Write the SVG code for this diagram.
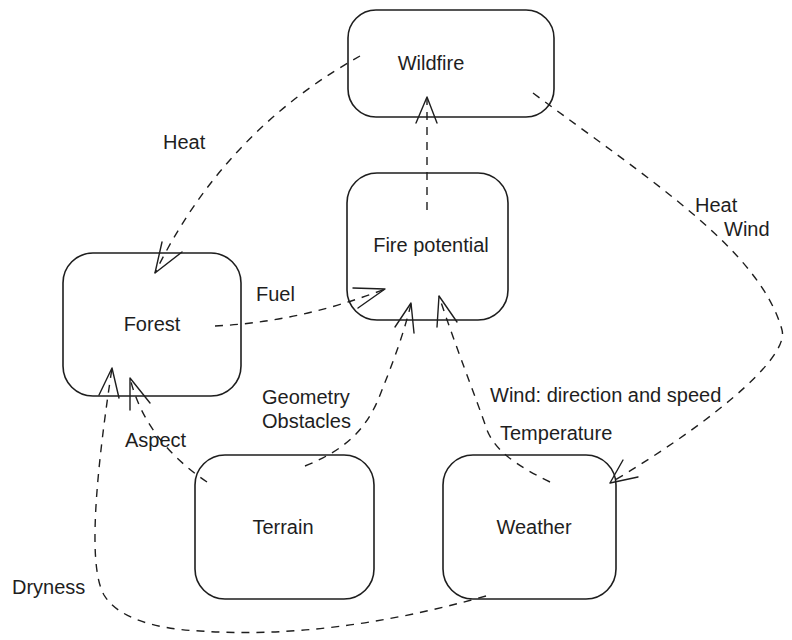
<svg xmlns="http://www.w3.org/2000/svg" width="792" height="640" viewBox="0 0 792 640">
<style>
.box{fill:#ffffff;stroke:#1e1e1e;stroke-width:1.6}
.lbl{font-family:"Liberation Sans","Noto Sans",Arial,sans-serif;font-size:20px;fill:#1e1e1e}
.mid{text-anchor:middle}
.edge{fill:none;stroke:#1e1e1e;stroke-width:1.4;stroke-dasharray:8 7}
.head{fill:none;stroke:#1e1e1e;stroke-width:1.4;stroke-linecap:round;stroke-linejoin:round}
</style>
<rect width="792" height="640" fill="#ffffff"/>
<g id="node-wildfire">
<rect class="box" x="348" y="10" width="206" height="107" rx="28"/>
<text class="lbl mid" x="431" y="70">Wildfire</text>
</g>
<g id="node-fire-potential">
<rect class="box" x="347" y="173" width="161" height="147" rx="30"/>
<text class="lbl mid" x="431" y="252">Fire potential</text>
</g>
<g id="node-forest">
<rect class="box" x="63" y="253" width="178" height="143" rx="30"/>
<text class="lbl mid" x="152" y="331">Forest</text>
</g>
<g id="node-terrain">
<rect class="box" x="195" y="455" width="179" height="144" rx="30"/>
<text class="lbl mid" x="283" y="534">Terrain</text>
</g>
<g id="node-weather">
<rect class="box" x="443" y="455" width="173" height="144" rx="30"/>
<text class="lbl mid" x="534" y="534">Weather</text>
</g>
<g id="connectors">
<path class="edge" d="M360,56 C290,95 210,160 155,273"/>
<path class="head" d="M162,242 L155,273 L182,252"/>
<path class="edge" d="M427,210 L427,98"/>
<path class="head" d="M416,123 L427,97 L437,123"/>
<path class="edge" d="M215,326 Q300,322 385,289"/>
<path class="head" d="M353,288 L385,289 L358,308"/>
<path class="edge" d="M305,466 C345,450 365,430 378,400 C390,370 402,340 411,304"/>
<path class="head" d="M395,327 L411,303 L414,333"/>
<path class="edge" d="M550,482 C515,465 495,450 487,430 C475,395 455,345 439,296"/>
<path class="head" d="M437,327 L439,296 L457,322"/>
<path class="edge" d="M207,482 Q145,440 130,378"/>
<path class="head" d="M150,403 L130,378 L130,410"/>
<path class="edge" d="M486,596 Q330,640 200,631 C155,629 118,618 104,595 C90,570 92,500 112,368"/>
<path class="head" d="M99,395 L112,368 L119,398"/>
<path class="edge" d="M533,93 C650,180 760,250 782,330 C790,360 700,430 610,483"/>
<path class="head" d="M638,477 L610,483 L623,460"/>
</g>
<g id="labels">
<text class="lbl" x="163" y="149">Heat</text>
<text class="lbl" x="256" y="301">Fuel</text>
<text class="lbl" x="695" y="212">Heat</text>
<text class="lbl" x="724" y="236">Wind</text>
<text class="lbl" x="262" y="404">Geometry</text>
<text class="lbl" x="262" y="428">Obstacles</text>
<text class="lbl" x="125" y="447">Aspect</text>
<text class="lbl" x="490" y="402">Wind: direction and speed</text>
<text class="lbl" x="500" y="440">Temperature</text>
<text class="lbl" x="12" y="594">Dryness</text>
</g>
</svg>
